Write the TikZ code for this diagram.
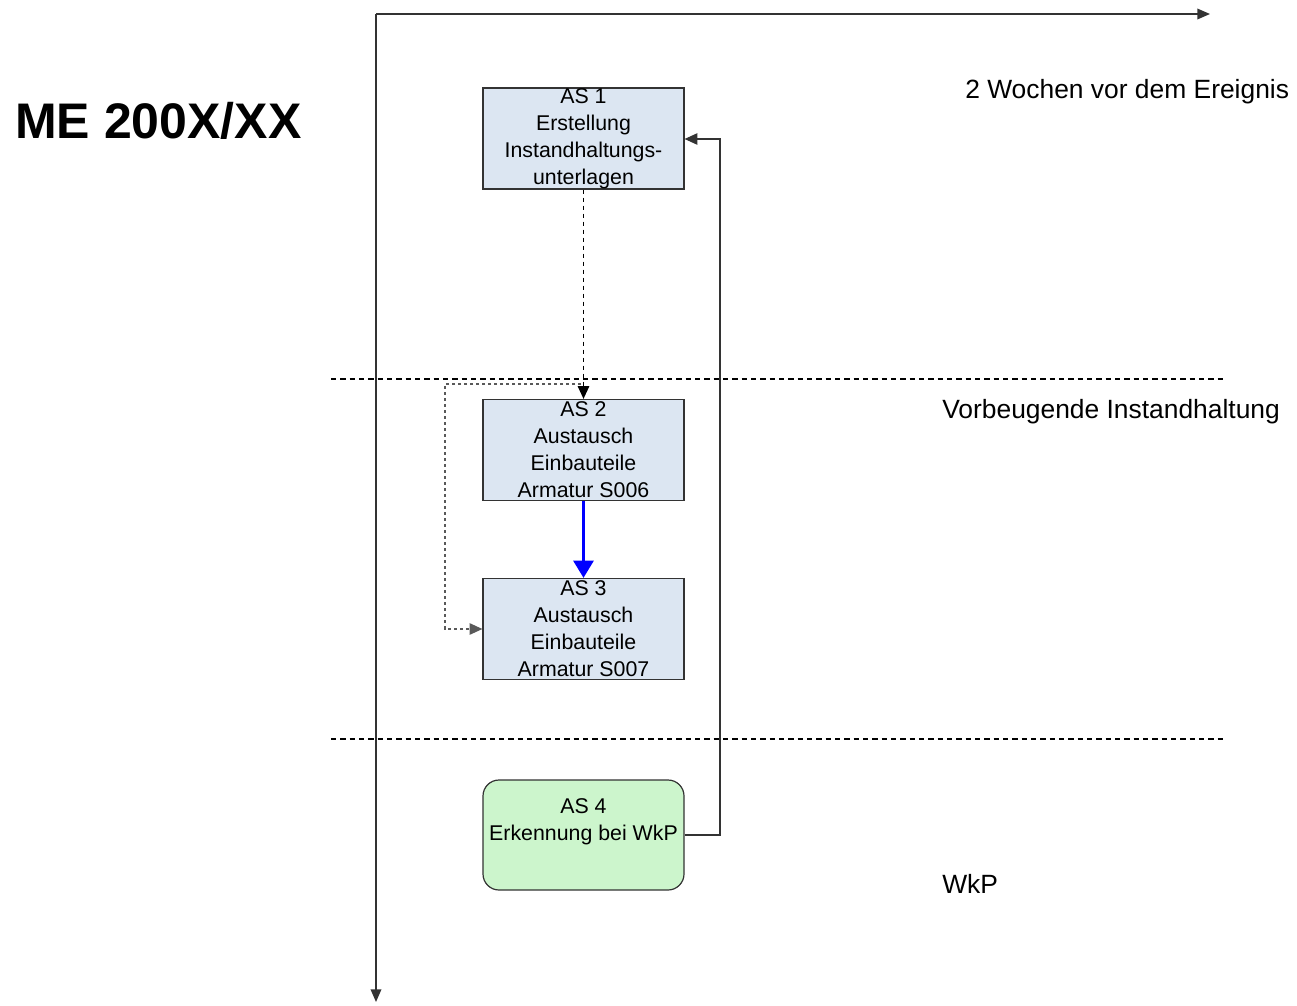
\documentclass[tikz,border=0pt]{standalone}
\usepackage{fontspec}
\setmainfont{Liberation Sans}
\usetikzlibrary{arrows.meta}
\definecolor{boxblue}{HTML}{DCE6F2}
\definecolor{boxgreen}{HTML}{CCF5CC}
\definecolor{edge}{HTML}{333333}
\tikzset{
  activity/.style={draw=edge, line width=0.9pt, fill=boxblue, minimum width=150.75pt,
    minimum height=75.75pt, inner sep=0pt, align=center,
    font=\fontsize{16}{20.25}\selectfont},
  event/.style={draw=edge, line width=0.9pt, fill=boxgreen, rounded corners=12pt,
    minimum width=150.75pt, minimum height=82.5pt, inner sep=0pt},
  phase/.style={anchor=west, inner sep=0pt, font=\fontsize{19.8}{24}\selectfont},
  axis/.style={draw=edge, line width=1pt, -{Triangle[length=9.5pt,width=8pt]}},
  sep/.style={draw=black, line width=0.8pt, dash pattern=on 4pt off 3pt},
  flow/.style={draw=black, line width=0.9pt, -{Triangle[length=9.5pt,width=8.5pt]}},
  dflow/.style={flow, line width=1.1pt, dash pattern=on 3.5pt off 2.5pt},
  gflow/.style={flow, draw=gray!70!black, line width=1pt, dash pattern=on 2.5pt off 2pt},
  mainflow/.style={draw=blue, line width=2.4pt, -{Triangle[length=13pt,width=15pt]}}
}
\begin{document}
\begin{tikzpicture}[x=0.75pt, y=-0.75pt]
  \useasboundingbox (0,0) rectangle (1297,1006);

  % time axes
  \coordinate (origin) at (376,14);
  \coordinate (xend) at (1210,14);
  \coordinate (yend) at (376,1002);
  \draw[axis] (origin) -- (xend);
  \draw[axis] (origin) -- (yend);

  % phase separators
  \coordinate (s1a) at (331,379);
  \coordinate (s1b) at (1225,379);
  \coordinate (s2a) at (331,739);
  \coordinate (s2b) at (1225,739);
  \draw[sep] (s1a) -- (s1b);
  \draw[sep] (s2a) -- (s2b);

  % titles
  \node[anchor=west, inner sep=0pt, font=\fontsize{37.5}{40}\bfseries\selectfont] (title) at (15,121) {ME 200X/XX};
  \node[phase] (ph1) at (965,92) {2 Wochen vor dem Ereignis};
  \node[phase] (ph2) at (942,412) {Vorbeugende Instandhaltung};
  \node[phase] (ph3) at (942,884) {WkP};

  % activities
  \node[activity] (as1) at (583.5,138.5) {AS 1\\Erstellung\\Instandhaltungs-\\unterlagen};
  \node[activity] (as2) at (583.5,450) {AS 2\\Austausch\\Einbauteile\\Armatur S006};
  \node[activity] (as3) at (583.5,629) {AS 3\\Austausch\\Einbauteile\\Armatur S007};
  \node[event] (as4) at (583.5,835) {};
  \node[align=center, inner sep=0pt, font=\fontsize{16}{20.25}\selectfont] (as4text) at (583.5,821.5) {AS 4\\Erkennung bei WkP};

  % connectors
  \draw[dflow] (as1.south) -- (as2.north);
  \coordinate (branch) at (581,384);
  \draw[gflow] (branch) -- (445,384) |- (as3.west);
  \draw[mainflow] (as2.south) -- (as3.north);
  \draw[flow, draw=edge] (as4.east) -- (720,835) |- (as1.east |- 0,139);
\end{tikzpicture}
\end{document}
